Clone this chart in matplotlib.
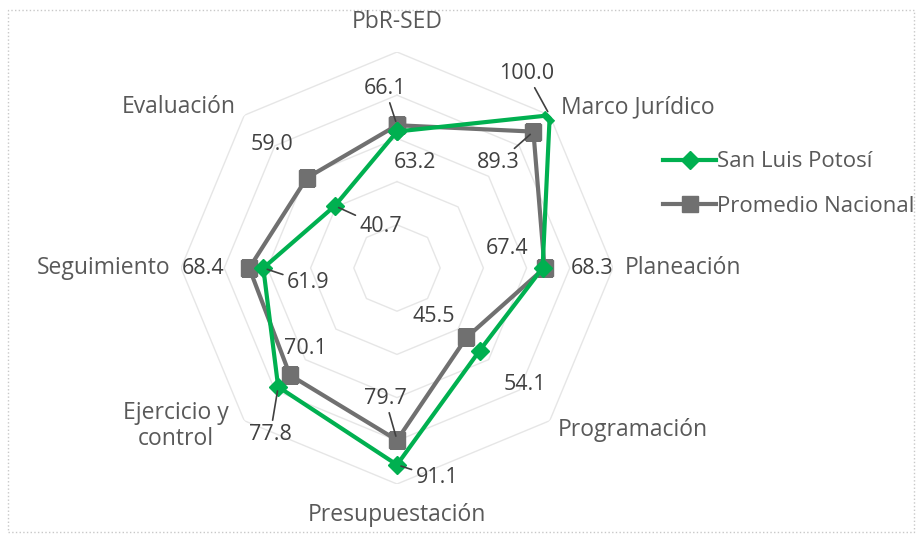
import matplotlib
matplotlib.use("Agg")
import matplotlib.pyplot as plt
import numpy as np
from matplotlib.patches import Rectangle

plt.rcParams['font.family'] = ['Open Sans', 'DejaVu Sans']

# datos
categorias = ['PbR-SED', 'Marco Jurídico', 'Planeación', 'Programación',
              'Presupuestación', 'Ejercicio y\ncontrol', 'Seguimiento', 'Evaluación']
san_luis = [63.2, 100.0, 67.4, 54.1, 91.1, 77.8, 61.9, 40.7]
promedio = [66.1, 89.3, 68.3, 45.5, 79.7, 70.1, 68.4, 59.0]
serie_slp = 'San Luis Potosí'
serie_nac = 'Promedio Nacional'

W, H = 919, 542
VERDE = '#00B050'
GRIS = '#707070'
TXT = '#404040'
CAT = '#595959'


def px(x, y):
    """pixel (desde arriba-izquierda) -> fracción de figura"""
    return x / W, 1 - y / H


fig = plt.figure(figsize=(W / 100, H / 100), dpi=100)
cx, cy, R = 397, 268, 216
ax = fig.add_axes([(cx - R) / W, (H - cy - R) / H, 2 * R / W, 2 * R / H],
                  projection='polar')
ax.set_theta_offset(np.pi / 2)
ax.set_theta_direction(-1)
ax.set_ylim(0, 100)

n = len(categorias)
ang = np.linspace(0, 2 * np.pi, n, endpoint=False)
ang_c = np.append(ang, ang[0])

# rejilla octagonal
ax.grid(False)
ax.spines['polar'].set_visible(False)
ax.set_xticks([])
ax.set_yticks([])
for r in range(20, 101, 20):
    ax.plot(ang_c, [r] * (n + 1), color='#e6e6e6', lw=1, zorder=1)

ax.plot(ang_c, np.append(promedio, promedio[0]), color=GRIS, lw=3,
        marker='s', ms=12, label=serie_nac, zorder=3)
ax.plot(ang_c, np.append(san_luis, san_luis[0]), color=VERDE, lw=3,
        marker='D', ms=9.5, label=serie_slp, zorder=4)

# etiquetas de datos: (offset x, offset y, con línea guía)
off_slp = [(18, -31, False), (-23, 42, True), (-36, 20, False), (45, -34, False),
           (40, -13, True), (-8, -48, True), (45, -15, True), (46, -21, True)]
off_nac = [(-12, 37, True), (-35, -31, True), (48, 0, False), (-33, 21, False),
           (-12, 42, True), (15, 27, False), (-46, 0, False), (-35, 33, False)]


def etiquetas(valores, offsets):
    for a, v, (dx, dy, guia) in zip(ang, valores, offsets):
        kw = {}
        if guia:
            kw['arrowprops'] = dict(arrowstyle='-', color=TXT, lw=1.2,
                                    shrinkA=1, shrinkB=3)
        ax.annotate(f'{v:.1f}', xy=(a, v), xytext=(dx, dy),
                    textcoords='offset pixels', ha='center', va='center',
                    fontsize=15.5, color=TXT, zorder=5, **kw)


etiquetas(san_luis, off_slp)
etiquetas(promedio, off_nac)

# etiquetas de categorías
pos_cat = [(397, 22, 'center'), (561, 107, 'left'), (625, 268, 'left'),
           (558, 430, 'left'), (397, 515, 'center'), (176, 426, 'center'),
           (170, 268, 'right'), (236, 107, 'right')]
for txt, (x, y, ha) in zip(categorias, pos_cat):
    fig.text(*px(x, y), txt, ha=ha, va='center', fontsize=16.5, color=CAT,
             multialignment='center', linespacing=1.15)

# leyenda
h, l = ax.get_legend_handles_labels()
fig.legend(h[::-1], l[::-1], loc='center left', bbox_to_anchor=px(654, 184),
           frameon=False, fontsize=16, labelcolor=CAT, handlelength=2.4,
           handletextpad=0.05, labelspacing=1.05, borderaxespad=0)

# borde punteado
fig.patches.append(Rectangle(px(8, 532), (906) / W, 522 / H, transform=fig.transFigure,
                             fill=False, ls=':', lw=1, ec='#c8c8c8'))

fig.savefig('out.png', dpi=100)
